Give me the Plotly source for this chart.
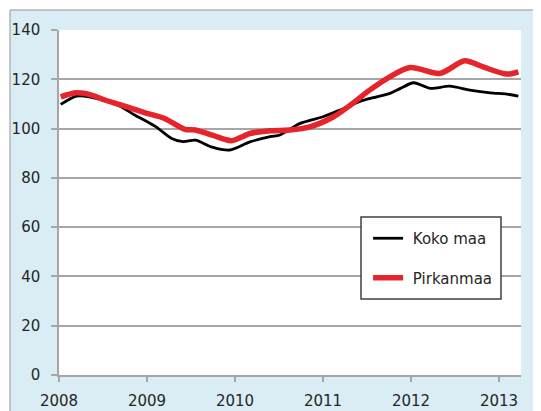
import plotly.graph_objects as go

# Koko maa (whole country)
koko_x = [2008.02, 2008.2, 2008.37, 2008.55, 2008.71, 2008.86, 2009.09, 2009.28, 2009.41,
          2009.55, 2009.73, 2009.94, 2010.17, 2010.4, 2010.51, 2010.74, 2011.0, 2011.19,
          2011.42, 2011.6, 2011.76, 2011.88, 2012.03, 2012.22, 2012.44, 2012.67, 2012.9,
          2013.09, 2013.22]
koko_y = [109.8, 113.2, 112.7, 111.0, 108.8, 105.5, 101.0, 96.0, 94.7,
          95.3, 92.6, 91.3, 94.6, 96.7, 97.4, 102.1, 104.8, 107.5,
          111.0, 112.8, 114.3, 116.3, 118.6, 116.3, 117.2, 115.6, 114.5,
          114.0, 113.2]

# Pirkanmaa
pirk_x = [2008.02, 2008.2, 2008.37, 2008.52, 2008.71, 2008.98, 2009.2, 2009.43, 2009.55,
          2009.75, 2009.96, 2010.17, 2010.4, 2010.62, 2010.85, 2011.12, 2011.31, 2011.53,
          2011.76, 2011.99, 2012.33, 2012.61, 2012.82, 2013.09, 2013.22]
pirk_y = [112.9, 114.5, 113.6, 111.6, 109.5, 106.4, 104.1, 99.7, 99.4,
          97.2, 95.1, 98.0, 99.1, 99.4, 100.7, 104.8, 109.5, 115.6,
          121.0, 124.8, 122.4, 127.5, 125.0, 122.1, 123.0]

year_ticks = [2008, 2009, 2010, 2011, 2012, 2013]

fig = go.Figure()
fig.add_trace(go.Scatter(x=koko_x, y=koko_y, mode='lines', name='\u00a0Koko maa',
                         legendgroup='a', line=dict(color='#000000', width=2.8, shape='spline', smoothing=0.8)))
fig.add_trace(go.Scatter(x=pirk_x, y=pirk_y, mode='lines', name='\u00a0Pirkanmaa',
                         legendgroup='b', line=dict(color='#e5242b', width=5.5, shape='spline', smoothing=0.8)))

grey = '#a6a6a6'
# the page body has an 8px margin, so the figure is made 8px smaller
fig.update_layout(
    width=533, height=403,
    margin=dict(l=51, r=20, t=22, b=36),
    paper_bgcolor='#dbedf4',
    plot_bgcolor='#ffffff',
    font=dict(family='DejaVu Sans', size=15, color='#262626'),
    legend=dict(x=0.669, y=0.4435, xanchor='left', yanchor='top',
                bgcolor='rgba(0,0,0,0)', borderwidth=0,
                tracegroupgap=17, traceorder='grouped'),
    shapes=[
        # white frame outside the chart area
        dict(type='rect', xref='paper', yref='paper', x0=-0.3, x1=1.2, y0=1.058, y1=1.3,
             fillcolor='#ffffff', line=dict(width=0), layer='below'),
        dict(type='rect', xref='paper', yref='paper', x0=-0.3, x1=-0.106, y0=-0.3, y1=1.3,
             fillcolor='#ffffff', line=dict(width=0), layer='below'),
        dict(type='line', xref='paper', yref='paper', x0=-0.106, x1=1.2, y0=1.058, y1=1.058,
             line=dict(color='#b5b5b5', width=1.5)),
        dict(type='line', xref='paper', yref='paper', x0=-0.106, x1=-0.106, y0=-0.3, y1=1.058,
             line=dict(color='#b5b5b5', width=1.5)),
        # legend box
        dict(type='rect', xref='paper', yref='paper', x0=0.6537, x1=0.9567, y0=0.2203, y1=0.458,
             fillcolor='#ffffff', line=dict(color='#404040', width=1.5), layer='above'),
    ],
)
fig.update_xaxes(range=[2008, 2013.25], tickvals=year_ticks, showgrid=False,
                 showline=True, linecolor=grey, linewidth=1.5,
                 ticks='outside', ticklen=5, tickcolor=grey, tickwidth=1.5,
                 ticklabelstandoff=6, zeroline=False, automargin=False)
fig.update_yaxes(range=[0, 140], dtick=20, showgrid=True, gridcolor=grey, gridwidth=1.5,
                 showline=True, linecolor=grey, linewidth=1.5,
                 ticks='outside', ticklen=6, tickcolor=grey, tickwidth=1.5,
                 ticklabelstandoff=8, zeroline=False, automargin=False)

fig.write_html("out.html")
